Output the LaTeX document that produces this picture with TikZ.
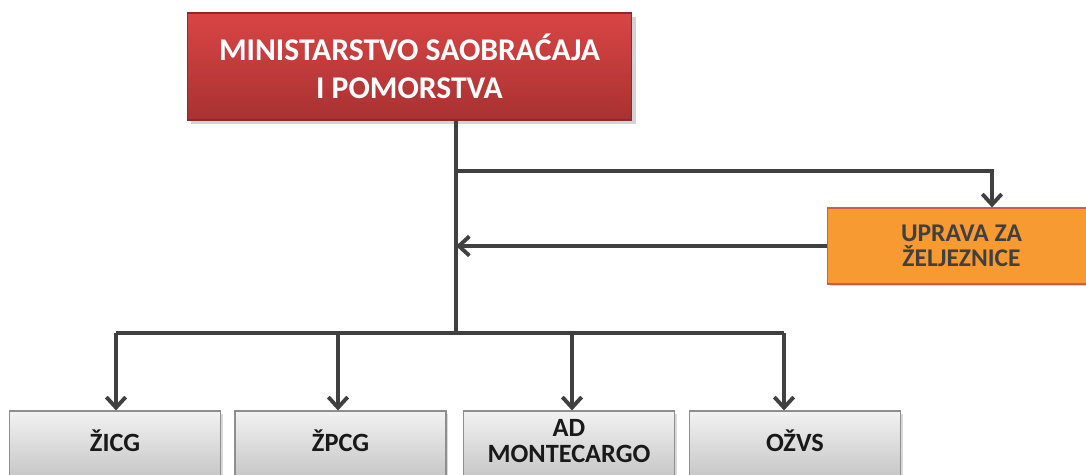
\documentclass[tikz,border=0pt]{standalone}
\usepackage{fontspec}
\setmainfont{Carlito}
\usetikzlibrary{arrows.meta,shadows}

\definecolor{wire}{HTML}{404040}
\definecolor{minitop}{HTML}{D94545}
\definecolor{minibot}{HTML}{A93131}
\definecolor{miniedge}{HTML}{8C2A2A}
\definecolor{upravafill}{HTML}{F79A32}
\definecolor{upravaedge}{HTML}{D35A45}
\definecolor{unittop}{HTML}{F2F2F2}
\definecolor{unitbot}{HTML}{C4C4C4}
\definecolor{unitedge}{HTML}{8E8E8E}

\tikzset{
  ministry/.style={draw=miniedge,line width=0.6pt,top color=minitop,bottom color=minibot,
    minimum width=8.9cm,minimum height=2.14cm,align=center,text=white,
    font=\bfseries\fontsize{18}{21.5}\selectfont,
    drop shadow={shadow xshift=0.08cm,shadow yshift=-0.08cm,opacity=0.35}},
  agency/.style={draw=upravaedge,line width=0.6pt,fill=upravafill,
    minimum width=5.38cm,minimum height=1.52cm,align=center,text=wire,
    font=\bfseries\fontsize{14.5}{14.5}\selectfont,
    drop shadow={shadow xshift=0.05cm,shadow yshift=-0.05cm,opacity=0.3}},
  unit/.style={draw=unitedge,line width=0.6pt,top color=unittop,bottom color=unitbot,
    minimum width=4.22cm,minimum height=1.4cm,align=center,text=black!90,
    text depth=0.2cm,font=\bfseries\fontsize{15}{14.5}\selectfont,
    drop shadow={shadow xshift=0.05cm,shadow yshift=-0.05cm,opacity=0.3}},
  arr/.style={-{Straight Barb[length=6pt,width=11pt]}}
}

\begin{document}
\begin{tikzpicture}[x=0.02cm,y=-0.02cm,line width=2.2pt,line join=miter,draw=wire]
\useasboundingbox (0,0) rectangle (1086,475);

% boxes
\node[ministry] (min) at (409.5,66.5) {MINISTARSTVO SAOBRAĆAJA\\I POMORSTVA};
\node[agency] (uprava) at (961.5,246) {UPRAVA ZA\\ŽELJEZNICE};
\node[unit] (zicg) at (115,446) {ŽICG};
\node[unit] (zpcg) at (340.5,446) {ŽPCG};
\node[unit] (mont) at (569,446) {AD\\MONTECARGO};
\node[unit] (ozvs) at (795,446) {OŽVS};

% junctions
\coordinate (fork) at (456,171);
\coordinate (trunk) at (456,333);
\coordinate (b1) at (116,333);
\coordinate (b2) at (338,333);
\coordinate (b3) at (572,333);
\coordinate (b4) at (784,333);

% connectors
\draw[wire] (min.south -| trunk) -- (trunk);
\draw[wire,arr] (fork) -| ([xshift=0.61cm]uprava.north);
\draw[wire,arr] (uprava.west) -- (uprava.west -| trunk);
\draw[wire] (b1) -- (b4);
\foreach \c/\n in {b1/zicg,b2/zpcg,b3/mont,b4/ozvs}
  \draw[wire,arr] (\c) -- (\c |- \n.north);
\end{tikzpicture}
\end{document}
